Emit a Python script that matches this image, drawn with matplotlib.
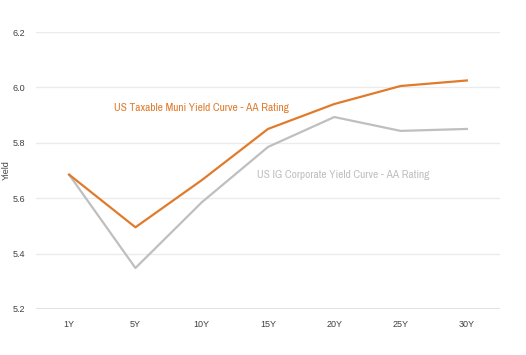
import matplotlib.pyplot as plt

tenors = ['1Y', '5Y', '10Y', '15Y', '20Y', '25Y', '30Y']
muni_yield = [5.685, 5.495, 5.665, 5.85, 5.94, 6.005, 6.025]
corp_yield = [5.685, 5.348, 5.585, 5.785, 5.893, 5.843, 5.85]

orange = '#E07B2C'
grey = '#BFBFBF'

plt.rcParams['font.family'] = ['Liberation Sans', 'DejaVu Sans']

fig = plt.figure(figsize=(5.26, 3.55), dpi=100)
ax = fig.add_axes([36 / 526, 46 / 355, 464 / 526, 277 / 355])

x = range(len(tenors))
ax.plot(x, corp_yield, color=grey, lw=1.6)
ax.plot(x, muni_yield, color=orange, lw=1.6)

ax.set_xlim(-0.5, 6.5)
ax.set_ylim(5.2, 6.2)
ax.set_yticks([5.2, 5.4, 5.6, 5.8, 6.0, 6.2])
ax.set_yticklabels(['5.2', '5.4', '5.6', '5.8', '6.0', '6.2'])
ax.set_xticks(list(x))
ax.set_xticklabels(tenors)
ax.tick_params(length=0, labelsize=6.5, colors='#404040', pad=8)
ax.grid(axis='y', color='#EBEBEB', lw=1)
ax.set_axisbelow(True)
for s in ax.spines.values():
    s.set_visible(False)
ax.axhline(5.2, color='#E0E0E0', lw=1.5, zorder=0)
ax.set_ylabel('Yield', fontsize=6.5, color='#404040')
ax.yaxis.set_label_coords(-25 / 464, 0.5)

ax.text(0.67, 5.925, 'US Taxable Muni Yield Curve - AA Rating', color=orange,
        fontsize=8.2, family='Archivo Narrow', weight='medium', va='center')
ax.text(2.83, 5.683, 'US IG Corporate Yield Curve - AA Rating', color=grey,
        fontsize=8.2, family='Archivo Narrow', weight='medium', va='center')

fig.savefig('out.png', dpi=100)
